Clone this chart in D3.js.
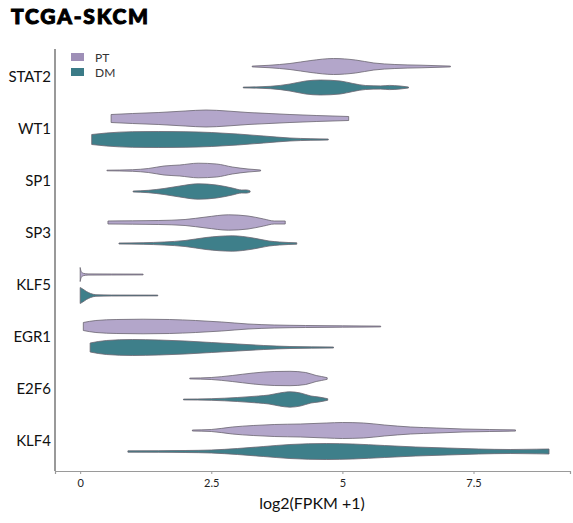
<!DOCTYPE html>
<html>
<head>
<meta charset="utf-8">
<script src="https://cdn.jsdelivr.net/npm/d3@7"></script>
<style>
  body { margin: 0; background: #fff; }
  text { font-family: Lato, "Open Sans", sans-serif; }
</style>
</head>
<body>
<div id="chart-area"></div>
<script>
// Genes top to bottom, two groups per gene
var genes = ["STAT2", "WT1", "SP1", "SP3", "KLF5", "EGR1", "E2F6", "KLF4"];
var groups = ["PT", "DM"];
var groupColors = ["#b3a6ca", "#3e7f8a"];
var legendColors = ["#9e8fb7", "#3b7b87"];
var xTicks = [0, 2.5, 5, 7.5];

// violin outlines: [log2(FPKM+1), half width]
var stat2PT = [[3.28,0.4],[3.6,1.2],[4.0,3],[4.4,6],[4.83,8],[5.25,6.5],[5.6,3.5],[6.0,2],[6.5,1.3],[7.06,0.4]];
var stat2DM = [[3.11,0.4],[3.63,1.2],[4.0,3.5],[4.3,6.5],[4.58,7.5],[4.96,6.5],[5.2,4],[5.44,2],[5.73,1.6],[5.9,2.1],[6.1,1.5],[6.26,0.5]];
var wt1PT = [[0.59,4],[1.0,5],[1.5,6],[2.0,7.5],[2.4,8.5],[2.8,7.5],[3.2,6],[3.6,5],[4.0,4],[4.5,3],[5.12,2]];
var wt1DM = [[0.22,5],[0.5,6.5],[1.0,7.8],[1.5,8],[2.0,7.8],[2.5,7],[3.0,5.5],[3.5,3.5],[4.0,1.5],[4.4,0.8],[4.73,0.5]];
var sp1PT = [[0.51,0.3],[1.0,0.8],[1.3,2],[1.6,4.5],[1.9,5.5],[2.25,7.3],[2.6,6.5],[2.9,3.5],[3.2,1.5],[3.44,0.5]];
var sp1DM = [[1.01,0.5],[1.3,1.2],[1.6,3],[1.9,5.5],[2.25,7.7],[2.6,6.5],[2.9,3.5],[3.08,1.5],[3.17,1.6],[3.24,0.6]];
var sp3PT = [[0.53,1.5],[1.0,1.7],[1.5,2],[2.0,3],[2.4,5.5],[2.83,7.7],[3.2,6.5],[3.5,3.5],[3.7,1.5],[3.91,1.5]];
var sp3DM = [[0.74,0.5],[1.2,0.8],[1.6,1.5],[2.0,3],[2.4,6],[2.9,7.7],[3.3,5.5],[3.6,2.5],[3.8,1.5],[4.13,0.7]];
var klf5PT = [[0,7],[0.02,3],[0.06,1.2],[0.15,0.6],[0.6,0.5],[1.2,0.4]];
var klf5DM = [[0,8],[0.05,6.5],[0.12,4],[0.2,2],[0.3,0.8],[0.6,0.5],[1.48,0.4]];
var egr1PT = [[0.06,4],[0.3,6],[0.7,7],[1.2,7.3],[1.7,7],[2.2,6],[2.7,4.5],[3.2,2.5],[3.7,1.5],[4.3,1],[5.0,0.7],[5.73,0.4]];
var egr1DM = [[0.19,4.5],[0.5,7],[1.0,8],[1.5,7.5],[2.0,6.5],[2.5,5],[3.0,3.5],[3.5,2],[4.0,1],[4.83,0.5]];
var e2f6PT = [[2.09,0.4],[2.5,1],[2.9,3],[3.3,5.5],[3.7,7],[4.0,7.2],[4.3,6],[4.5,3],[4.6,2],[4.71,0.8]];
var e2f6DM = [[1.97,0.4],[2.5,0.8],[3.0,2],[3.4,3.5],[3.6,4.5],[3.8,6.5],[4.0,7.7],[4.2,6.5],[4.4,3.5],[4.55,2.5],[4.72,0.8]];
var klf4PT = [[2.14,0.5],[2.5,1],[2.9,3.5],[3.3,5],[3.7,6],[4.2,6.5],[4.7,7.5],[5.0,8],[5.4,7.5],[5.8,5.5],[6.3,3.5],[6.8,2.5],[7.3,1.5],[7.8,1],[8.3,0.6]];
var klf4DM = [[0.91,0.7],[1.5,0.8],[2.0,1],[2.5,1.5],[3.0,3],[3.5,5],[4.0,7],[4.7,8],[5.2,7.5],[5.8,6],[6.4,4.5],[7.0,3.5],[7.6,2.5],[8.2,2],[8.7,2.3],[8.94,2.5]];

var violins = [
  ["STAT2", "PT", stat2PT], ["STAT2", "DM", stat2DM],
  ["WT1", "PT", wt1PT], ["WT1", "DM", wt1DM],
  ["SP1", "PT", sp1PT], ["SP1", "DM", sp1DM],
  ["SP3", "PT", sp3PT], ["SP3", "DM", sp3DM],
  ["KLF5", "PT", klf5PT], ["KLF5", "DM", klf5DM],
  ["EGR1", "PT", egr1PT], ["EGR1", "DM", egr1DM],
  ["E2F6", "PT", e2f6PT], ["E2F6", "DM", e2f6DM],
  ["KLF4", "PT", klf4PT], ["KLF4", "DM", klf4DM]
];

var width = 573, height = 523;

var svg = d3.select("#chart-area").append("svg")
  .attr("width", width)
  .attr("height", height);

// Scales
var x = d3.scaleLinear().domain([-0.48, 9.34]).range([55, 570]);
var y = d3.scalePoint().domain(genes).range([77, 441]);
var sub = d3.scalePoint().domain(groups).range([-10.5, 10.5]);
var w = d3.scaleLinear().domain([0, 8]).range([0, 8]);
var color = d3.scaleOrdinal().domain(groups).range(groupColors);

// Title
svg.append("text")
  .attr("x", 11)
  .attr("y", 24)
  .attr("font-size", "21px")
  .attr("font-weight", 900)
  .attr("letter-spacing", "1.8px")
  .attr("fill", "#000")
  .attr("stroke", "#000")
  .attr("stroke-width", 1)
  .text("TCGA-SKCM");

// Violins
var area = d3.area()
  .curve(d3.curveMonotoneX)
  .x(function(d) { return x(d[0]); });

violins.forEach(function(v) {
  var cy = y(v[0]) + sub(v[1]);
  svg.append("path")
    .datum(v[2])
    .attr("d", area.y0(function(d) { return cy - w(d[1]); })
                   .y1(function(d) { return cy + w(d[1]); }))
    .attr("fill", color(v[1]))
    .attr("stroke", "#6a6470")
    .attr("stroke-width", 0.8);
});

// X axis
var xAxisCall = d3.axisBottom(x)
  .tickValues(xTicks)
  .tickFormat(d3.format("~g"))
  .tickSizeOuter(0)
  .tickSize(3);
var xAxis = svg.append("g")
  .attr("transform", "translate(0,471)")
  .call(xAxisCall);
xAxis.select(".domain").attr("stroke", "#9a9a9a").attr("stroke-width", 1.2);
xAxis.selectAll(".tick line").attr("stroke", "#9a9a9a");
xAxis.selectAll(".tick text")
  .attr("font-family", "Lato, sans-serif")
  .attr("font-size", "11px")
  .attr("fill", "#222")
  .attr("dy", "0.9em");

// Y axis (line + gene labels)
var yAxisCall = d3.axisLeft(y).tickSize(0).tickPadding(4);
var yAxis = svg.append("g")
  .attr("transform", "translate(55,0)")
  .call(yAxisCall);
yAxis.select(".domain")
  .attr("d", "M0,49V471")
  .attr("stroke", "#555")
  .attr("stroke-width", 1.2);
yAxis.selectAll(".tick text")
  .attr("font-family", "Lato, sans-serif")
  .attr("font-size", "15px")
  .attr("fill", "#111");

// X axis label
svg.append("text")
  .attr("x", 312)
  .attr("y", 509)
  .attr("text-anchor", "middle")
  .attr("font-size", "16px")
  .attr("fill", "#111")
  .text("log2(FPKM +1)");

// Legend
var legend = svg.append("g").attr("transform", "translate(71,53)");
groups.forEach(function(gname, i) {
  legend.append("rect")
    .attr("x", 0)
    .attr("y", i * 15)
    .attr("width", 13)
    .attr("height", 8)
    .attr("fill", legendColors[i]);
  legend.append("text")
    .attr("x", 24)
    .attr("y", i * 15 + 8.5)
    .attr("font-size", "12px")
    .attr("fill", "#333")
    .text(gname);
});
</script>
</body>
</html>
